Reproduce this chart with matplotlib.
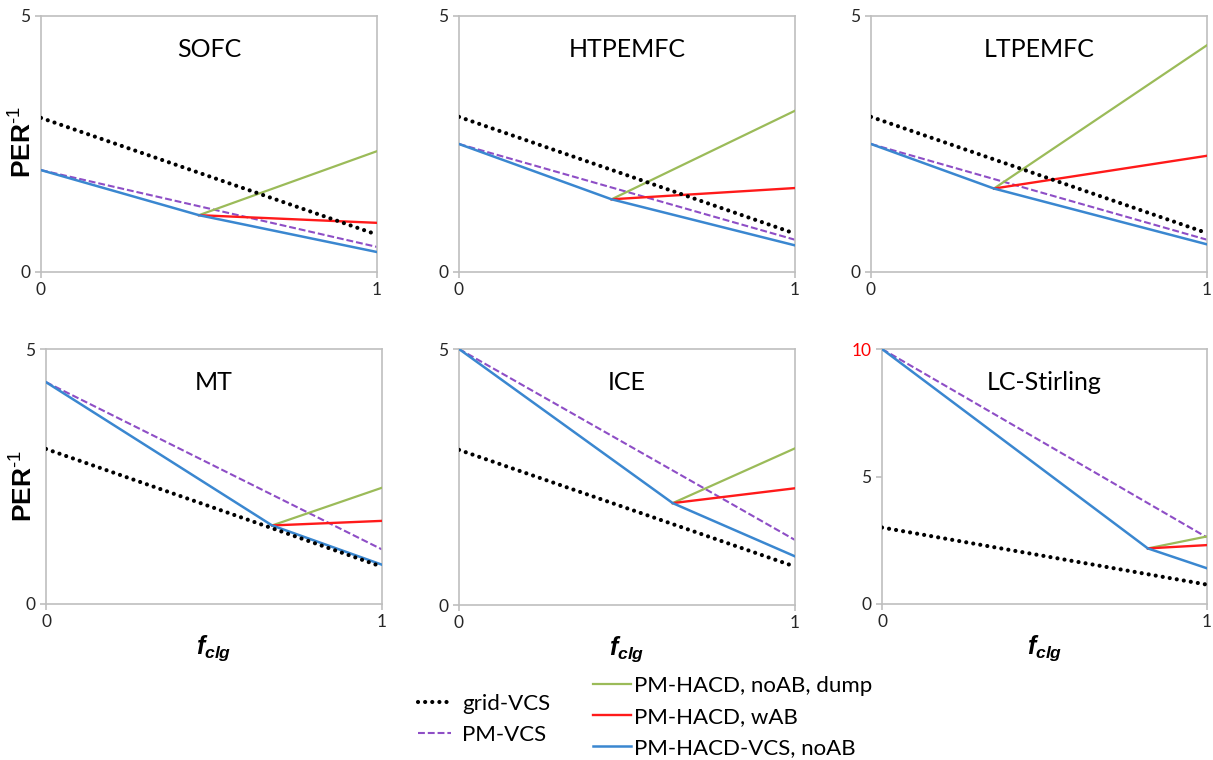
import matplotlib
matplotlib.use("Agg")
import matplotlib.pyplot as plt
from matplotlib.lines import Line2D

plt.rcParams["font.family"] = ["Lato", "DejaVu Sans"]
plt.rcParams["mathtext.fontset"] = "custom"
plt.rcParams["mathtext.it"] = "Liberation Sans:italic:bold"
plt.rcParams["mathtext.rm"] = "Liberation Sans"
plt.rcParams["mathtext.bf"] = "Liberation Sans:bold"

# data (PER^-1 against f_clg)
titles = ["SOFC", "HTPEMFC", "LTPEMFC", "MT", "ICE", "LC-Stirling"]
y_max = [5, 5, 5, 5, 5, 10]
# (value at f=0, value at f=1)
grid_vcs = [(3.01, 0.73), (3.03, 0.75), (3.03, 0.76), (3.04, 0.73), (3.03, 0.75), (3.00, 0.76)]
pm_vcs = [(1.99, 0.49), (2.50, 0.63), (2.50, 0.63), (4.35, 1.07), (5.00, 1.27), (10.0, 2.61)]
# f_clg where the HACD curves split
f_split = [0.47, 0.454, 0.366, 0.673, 0.636, 0.818]
# (value at f=0, value at split, value at f=1)
hacd_vcs = [(1.99, 1.11, 0.39), (2.50, 1.42, 0.52), (2.50, 1.63, 0.54),
            (4.35, 1.54, 0.77), (5.00, 1.99, 0.95), (10.0, 2.18, 1.40)]
# values at f=1 (start at split point)
hacd_dump = [2.36, 3.15, 4.43, 2.28, 3.06, 2.65]
hacd_wab = [0.96, 1.64, 2.27, 1.63, 2.28, 2.31]

c_grid = "black"
c_pm = "#8E4EC6"
c_dump = "#9BBB59"
c_wab = "#FF1A1A"
c_vcs = "#3A87D0"
dot_style = (0, (0.01, 1.7))
dash_style = (0, (3.3, 1.4))

W, H = 1213, 760
fig = plt.figure(figsize=(W / 100, H / 100), dpi=100)

# axes boxes in pixels: left, right, top, bottom
boxes = [(41, 377, 16, 272), (459, 795, 16, 272), (871, 1207, 16, 272),
         (46, 382, 349, 604), (459, 795, 349, 605), (882, 1207, 349, 604)]

for i, (l, r, t, b) in enumerate(boxes):
    ax = fig.add_axes([l / W, 1 - b / H, (r - l) / W, (b - t) / H])
    fs = f_split[i]
    ax.plot([0, 1], pm_vcs[i], color=c_pm, lw=1.5, linestyle=dash_style, zorder=2)
    ax.plot([fs, 1], [hacd_vcs[i][1], hacd_dump[i]], color=c_dump, lw=1.6, zorder=3)
    ax.plot([fs, 1], [hacd_vcs[i][1], hacd_wab[i]], color=c_wab, lw=1.7, zorder=3)
    ax.plot([0, fs, 1], hacd_vcs[i], color=c_vcs, lw=1.8, zorder=4)
    ax.plot([0, 1], grid_vcs[i], color=c_grid, lw=3, linestyle=dot_style,
            dash_capstyle="round", zorder=5)

    ax.set_xlim(0, 1)
    ax.set_ylim(0, y_max[i])
    ax.set_xticks([0, 1])
    ax.set_yticks(list(range(0, y_max[i] + 1, 5)))
    for s in ax.spines.values():
        s.set_color("#BFBFBF")
        s.set_linewidth(1.2)
    ax.tick_params(colors="#BFBFBF", labelcolor="#262626", labelsize=12.5, length=4, width=1.2)
    if y_max[i] == 10:
        ax.get_yticklabels()[-1].set_color("#FF0000")
    ax.text(0.5, 0.87, titles[i], transform=ax.transAxes, ha="center", va="center",
            fontsize=18, color="black")
    if i >= 3:
        ax.set_xlabel(r"$f_{clg}$", fontsize=18, labelpad=2)

# y labels for the left column
for xp, yp in [(23, 142), (24, 486)]:
    fig.text(xp / W, 1 - yp / H, r"PER$^{\text{-1}}$", rotation=90, ha="center", va="center",
             fontsize=19, fontweight="bold", family="Liberation Sans")

h_grid = Line2D([], [], color=c_grid, lw=3, linestyle=dot_style, dash_capstyle="round")
h_pm = Line2D([], [], color=c_pm, lw=1.5, linestyle=dash_style)
h_dump = Line2D([], [], color=c_dump, lw=1.6)
h_wab = Line2D([], [], color=c_wab, lw=1.7)
h_vcs = Line2D([], [], color=c_vcs, lw=1.8)

fig.legend([h_grid, h_pm], ["grid-VCS", "PM-VCS"], loc="upper left",
           bbox_to_anchor=(418 / W, 1 - 694 / H), frameon=False, fontsize=16,
           handlelength=1.5, handletextpad=0.5, labelspacing=0.5, borderpad=0, borderaxespad=0)
fig.legend([h_dump, h_wab, h_vcs], ["PM-HACD, noAB, dump", "PM-HACD, wAB", "PM-HACD-VCS, noAB"],
           loc="upper left", bbox_to_anchor=(593 / W, 1 - 676 / H), frameon=False, fontsize=16,
           handlelength=1.7, handletextpad=0.15, labelspacing=0.5, borderpad=0, borderaxespad=0)

fig.savefig("out.png", dpi=100)
